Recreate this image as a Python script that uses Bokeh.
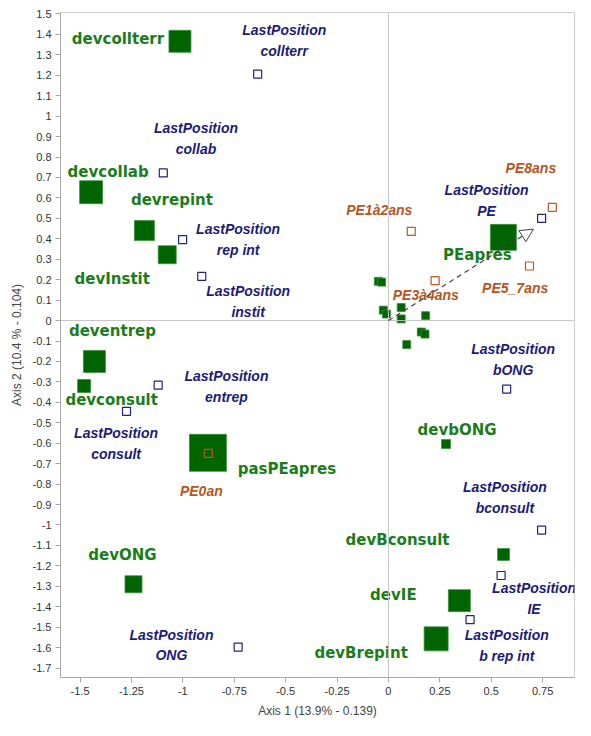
from bokeh.plotting import figure
from bokeh.models import ColumnDataSource, Range1d, FixedTicker, CustomJSTickFormatter, Span, Arrow, NormalHead
from bokeh.core.properties import value
from bokeh.embed import file_html
from bokeh.resources import INLINE

# ---- data ----
green_labels = ["devcollterr", "devcollab", "devrepint", "devInstit", "deventrep", "devconsult",
                "pasPEapres", "devONG", "PEapres", "devbONG", "devBconsult", "devIE", "devBrepint"]
green_x = [-1.014, -1.446, -1.187, -1.076, -1.43, -1.48, -0.878, -1.24, 0.559, 0.28, 0.56, 0.345, 0.232]
green_y = [1.366, 0.628, 0.44, 0.322, -0.2, -0.32, -0.647, -1.29, 0.407, -0.604, -1.144, -1.37, -1.557]
green_weight = [22, 23, 20, 18, 22, 13, 37, 17, 26, 9, 12, 22, 24]

small_x = [-0.049, -0.033, -0.025, -0.01, 0.062, 0.062, 0.181, 0.16, 0.178, 0.089]
small_y = [0.192, 0.188, 0.051, 0.032, 0.064, 0.008, 0.024, -0.056, -0.066, -0.117]

blue_labels = ["LastPosition\ncollterr", "LastPosition\ncollab", "LastPosition\nrep int",
               "LastPosition\ninstit", "LastPosition\nentrep", "LastPosition\nconsult",
               "LastPosition\nONG", "LastPosition\nPE", "LastPosition\nbONG",
               "LastPosition\nbconsult", "LastPosition\nIE", "LastPosition\nb rep int"]
blue_x = [-0.636, -1.095, -1.001, -0.908, -1.12, -1.274, -0.731, 0.745, 0.575, 0.745, 0.548, 0.397]
blue_y = [1.206, 0.722, 0.396, 0.216, -0.316, -0.444, -1.597, 0.5, -0.335, -1.025, -1.247, -1.463]

orange_labels = ["PE8ans", "PE1à2ans", "PE3à4ans", "PE5_7ans", "PE0an"]
orange_x = [0.797, 0.111, 0.227, 0.686, -0.876]
orange_y = [0.554, 0.436, 0.195, 0.267, -0.65]

arrow_x = [0.0, 0.705]
arrow_y = [0.0, 0.447]

x_ticks = [-1.5, -1.25, -1.0, -0.75, -0.5, -0.25, 0.0, 0.25, 0.5, 0.75]
y_ticks = [-1.7, -1.6, -1.5, -1.4, -1.3, -1.2, -1.1, -1.0, -0.9, -0.8, -0.7, -0.6, -0.5, -0.4,
           -0.3, -0.2, -0.1, 0.0, 0.1, 0.2, 0.3, 0.4, 0.5, 0.6, 0.7, 0.8, 0.9, 1.0, 1.1, 1.2,
           1.3, 1.4, 1.5]

x_title = "Axis 1 (13.9% - 0.139)"
y_title = "Axis 2 (10.4 % - 0.104)"

# ---- label placement (screen pixel offsets, layout only) ----
green_dx = [-62, 17, 27.5, -55, 18, 27.5, 79, -11, -26, 11, -106, -66, -75]
green_dy = [-2, -20, -31, 24, -30, 14, 16, -29, 18, -14, -14, -6, 14]
blue_dx = [26.6, 32.7, 55.5, 46.4, 68.3, -10.4, -66.7, -55, 6.5, -36.7, 33, 36.7]
blue_dy = [-33.6, -34.3, 0, 25, 1, 31.8, -2, -18, -29.5, -32.5, 23, 25.5]
orange_dx = [-21.4, -32, -9.3, -14.3, -7]
orange_dy = [-39, -21.7, 14, 22.4, 38]

GREEN = "#006400"
GREEN_TXT = "#1a7d1a"
BLUE = "#23237f"
BLUE_TXT = "#1c1c78"
ORANGE = "#b85a20"
ORANGE_TXT = "#b5561e"

p = figure(width=575, height=720, output_backend="svg", toolbar_location=None,
           x_range=Range1d(-1.595, 0.905), y_range=Range1d(-1.746, 1.507),
           min_border_left=60, min_border_right=1, min_border_top=12, min_border_bottom=40)
p.grid.visible = False
p.outline_line_color = "#d0d0d0"
p.background_fill_color = "white"

fmt = CustomJSTickFormatter(code="return String(Math.round(tick*100)/100);")
for ax, ticks in ((p.xaxis[0], x_ticks), (p.yaxis[0], y_ticks)):
    ax.ticker = FixedTicker(ticks=ticks)
    ax.formatter = fmt
    ax.axis_line_color = "#a8a8a8"
    ax.major_tick_line_color = "#a8a8a8"
    ax.major_tick_out = 5
    ax.major_tick_in = 0
    ax.minor_tick_line_color = None
    ax.major_label_text_font = "Liberation Sans"
    ax.major_label_text_font_size = "11px"
    ax.major_label_text_color = "#333333"
    ax.major_label_standoff = 4
    ax.axis_label_text_font = "Liberation Sans"
    ax.axis_label_text_font_size = "12px"
    ax.axis_label_text_font_style = "normal"
    ax.axis_label_text_color = "#444444"
    ax.axis_label_standoff = 6
p.xaxis.axis_label = x_title
p.yaxis.axis_label = y_title

p.add_layout(Span(location=0, dimension="height", line_color="#c4c4c4", line_width=1))
p.add_layout(Span(location=0, dimension="width", line_color="#c4c4c4", line_width=1))

gsrc = ColumnDataSource(dict(x=green_x, y=green_y, s=green_weight, label=green_labels,
                             dx=green_dx, dy=green_dy))
ssrc = ColumnDataSource(dict(x=small_x, y=small_y))
bsrc = ColumnDataSource(dict(x=blue_x, y=blue_y, label=blue_labels, dx=blue_dx, dy=blue_dy))
osrc = ColumnDataSource(dict(x=orange_x, y=orange_y, label=orange_labels, dx=orange_dx, dy=orange_dy))

p.scatter("x", "y", size="s", marker="square", source=gsrc, fill_color=GREEN,
          line_color="#3c913c", line_width=0.8)
p.scatter("x", "y", size=8, marker="square", source=ssrc, fill_color=GREEN,
          line_color="#3c913c", line_width=0.8)
p.scatter("x", "y", size=8, marker="square", source=bsrc, fill_alpha=0,
          line_color=BLUE, line_width=1.2)
p.scatter("x", "y", size=8, marker="square", source=osrc, fill_alpha=0,
          line_color=ORANGE, line_width=1.2)

p.add_layout(Arrow(end=NormalHead(size=13, fill_color="white", line_color="#444444", line_width=1),
                   x_start=arrow_x[0], y_start=arrow_y[0], x_end=arrow_x[1], y_end=arrow_y[1],
                   line_color="#444444", line_width=1.2, line_dash="5 4"))

p.text("x", "y", text="label", x_offset="dx", y_offset="dy", source=gsrc,
       text_font=value("DejaVu Sans"), text_font_style="bold", text_font_size="15px",
       text_color=GREEN_TXT, text_align="center", text_baseline="middle")
p.text("x", "y", text="label", x_offset="dx", y_offset="dy", source=bsrc,
       text_font=value("Liberation Sans"), text_font_style="bold italic", text_font_size="14px",
       text_color=BLUE_TXT, text_align="center", text_baseline="middle", text_line_height=1.3)
p.text("x", "y", text="label", x_offset="dx", y_offset="dy", source=osrc,
       text_font=value("Liberation Sans"), text_font_style="bold italic", text_font_size="14px",
       text_color=ORANGE_TXT, text_align="center", text_baseline="middle")

open("out.html", "w").write(file_html(p, INLINE))
